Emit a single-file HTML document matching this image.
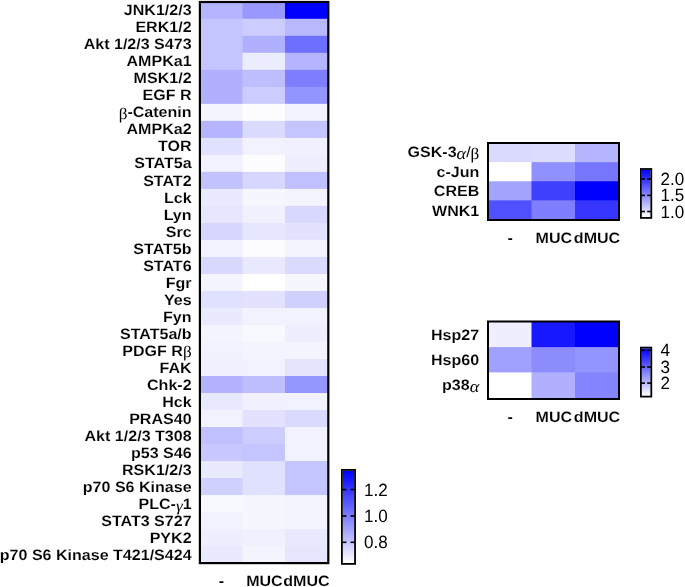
<!DOCTYPE html>
<html><head><meta charset="utf-8"><style>
html,body{margin:0;padding:0;background:#fff;}
body{width:685px;height:587px;overflow:hidden;}
svg{display:block;font-family:"Liberation Sans", sans-serif;will-change:transform;}
</style></head><body>
<svg width="685" height="587" viewBox="0 0 685 587" text-rendering="geometricPrecision" font-family='"Liberation Sans", sans-serif' fill="#000">
<rect x="200.00" y="1.79" width="43.50" height="18.01" fill="rgb(180,180,255)" />
<rect x="242.50" y="1.79" width="43.50" height="18.01" fill="rgb(152,152,255)" />
<rect x="285.00" y="1.79" width="43.50" height="18.01" fill="rgb(0,0,255)" />
<rect x="200.00" y="18.80" width="43.50" height="18.01" fill="rgb(196,196,255)" />
<rect x="242.50" y="18.80" width="43.50" height="18.01" fill="rgb(204,204,255)" />
<rect x="285.00" y="18.80" width="43.50" height="18.01" fill="rgb(184,184,255)" />
<rect x="200.00" y="35.81" width="43.50" height="18.01" fill="rgb(196,196,255)" />
<rect x="242.50" y="35.81" width="43.50" height="18.01" fill="rgb(176,176,255)" />
<rect x="285.00" y="35.81" width="43.50" height="18.01" fill="rgb(110,110,255)" />
<rect x="200.00" y="52.82" width="43.50" height="18.01" fill="rgb(196,196,255)" />
<rect x="242.50" y="52.82" width="43.50" height="18.01" fill="rgb(236,236,255)" />
<rect x="285.00" y="52.82" width="43.50" height="18.01" fill="rgb(180,180,255)" />
<rect x="200.00" y="69.83" width="43.50" height="18.01" fill="rgb(176,176,255)" />
<rect x="242.50" y="69.83" width="43.50" height="18.01" fill="rgb(190,190,255)" />
<rect x="285.00" y="69.83" width="43.50" height="18.01" fill="rgb(126,126,255)" />
<rect x="200.00" y="86.84" width="43.50" height="18.01" fill="rgb(176,176,255)" />
<rect x="242.50" y="86.84" width="43.50" height="18.01" fill="rgb(204,204,255)" />
<rect x="285.00" y="86.84" width="43.50" height="18.01" fill="rgb(148,148,255)" />
<rect x="200.00" y="103.85" width="43.50" height="18.01" fill="rgb(244,244,255)" />
<rect x="242.50" y="103.85" width="43.50" height="18.01" fill="rgb(252,252,255)" />
<rect x="285.00" y="103.85" width="43.50" height="18.01" fill="rgb(242,242,255)" />
<rect x="200.00" y="120.86" width="43.50" height="18.01" fill="rgb(180,180,255)" />
<rect x="242.50" y="120.86" width="43.50" height="18.01" fill="rgb(218,218,255)" />
<rect x="285.00" y="120.86" width="43.50" height="18.01" fill="rgb(196,196,255)" />
<rect x="200.00" y="137.87" width="43.50" height="18.01" fill="rgb(224,224,255)" />
<rect x="242.50" y="137.87" width="43.50" height="18.01" fill="rgb(242,242,255)" />
<rect x="285.00" y="137.87" width="43.50" height="18.01" fill="rgb(240,240,255)" />
<rect x="200.00" y="154.88" width="43.50" height="18.01" fill="rgb(241,241,255)" />
<rect x="242.50" y="154.88" width="43.50" height="18.01" fill="rgb(252,252,255)" />
<rect x="285.00" y="154.88" width="43.50" height="18.01" fill="rgb(238,238,255)" />
<rect x="200.00" y="171.89" width="43.50" height="18.01" fill="rgb(194,194,255)" />
<rect x="242.50" y="171.89" width="43.50" height="18.01" fill="rgb(214,214,255)" />
<rect x="285.00" y="171.89" width="43.50" height="18.01" fill="rgb(192,192,255)" />
<rect x="200.00" y="188.90" width="43.50" height="18.01" fill="rgb(233,233,255)" />
<rect x="242.50" y="188.90" width="43.50" height="18.01" fill="rgb(246,246,255)" />
<rect x="285.00" y="188.90" width="43.50" height="18.01" fill="rgb(244,244,255)" />
<rect x="200.00" y="205.91" width="43.50" height="18.01" fill="rgb(230,230,255)" />
<rect x="242.50" y="205.91" width="43.50" height="18.01" fill="rgb(240,240,255)" />
<rect x="285.00" y="205.91" width="43.50" height="18.01" fill="rgb(216,216,255)" />
<rect x="200.00" y="222.92" width="43.50" height="18.01" fill="rgb(214,214,255)" />
<rect x="242.50" y="222.92" width="43.50" height="18.01" fill="rgb(230,230,255)" />
<rect x="285.00" y="222.92" width="43.50" height="18.01" fill="rgb(226,226,255)" />
<rect x="200.00" y="239.93" width="43.50" height="18.01" fill="rgb(242,242,255)" />
<rect x="242.50" y="239.93" width="43.50" height="18.01" fill="rgb(252,252,255)" />
<rect x="285.00" y="239.93" width="43.50" height="18.01" fill="rgb(244,244,255)" />
<rect x="200.00" y="256.94" width="43.50" height="18.01" fill="rgb(216,216,255)" />
<rect x="242.50" y="256.94" width="43.50" height="18.01" fill="rgb(232,232,255)" />
<rect x="285.00" y="256.94" width="43.50" height="18.01" fill="rgb(218,218,255)" />
<rect x="200.00" y="273.95" width="43.50" height="18.01" fill="rgb(244,244,255)" />
<rect x="242.50" y="273.95" width="43.50" height="18.01" fill="rgb(255,255,255)" />
<rect x="285.00" y="273.95" width="43.50" height="18.01" fill="rgb(246,246,255)" />
<rect x="200.00" y="290.96" width="43.50" height="18.01" fill="rgb(224,224,255)" />
<rect x="242.50" y="290.96" width="43.50" height="18.01" fill="rgb(226,226,255)" />
<rect x="285.00" y="290.96" width="43.50" height="18.01" fill="rgb(208,208,255)" />
<rect x="200.00" y="307.97" width="43.50" height="18.01" fill="rgb(234,234,255)" />
<rect x="242.50" y="307.97" width="43.50" height="18.01" fill="rgb(242,242,255)" />
<rect x="285.00" y="307.97" width="43.50" height="18.01" fill="rgb(242,242,255)" />
<rect x="200.00" y="324.98" width="43.50" height="18.01" fill="rgb(244,244,255)" />
<rect x="242.50" y="324.98" width="43.50" height="18.01" fill="rgb(248,248,255)" />
<rect x="285.00" y="324.98" width="43.50" height="18.01" fill="rgb(238,238,255)" />
<rect x="200.00" y="341.99" width="43.50" height="18.01" fill="rgb(242,242,255)" />
<rect x="242.50" y="341.99" width="43.50" height="18.01" fill="rgb(244,244,255)" />
<rect x="285.00" y="341.99" width="43.50" height="18.01" fill="rgb(244,244,255)" />
<rect x="200.00" y="359.00" width="43.50" height="18.01" fill="rgb(240,240,255)" />
<rect x="242.50" y="359.00" width="43.50" height="18.01" fill="rgb(242,242,255)" />
<rect x="285.00" y="359.00" width="43.50" height="18.01" fill="rgb(228,228,255)" />
<rect x="200.00" y="376.01" width="43.50" height="18.01" fill="rgb(178,178,255)" />
<rect x="242.50" y="376.01" width="43.50" height="18.01" fill="rgb(190,190,255)" />
<rect x="285.00" y="376.01" width="43.50" height="18.01" fill="rgb(150,150,255)" />
<rect x="200.00" y="393.02" width="43.50" height="18.01" fill="rgb(232,232,255)" />
<rect x="242.50" y="393.02" width="43.50" height="18.01" fill="rgb(240,240,255)" />
<rect x="285.00" y="393.02" width="43.50" height="18.01" fill="rgb(242,242,255)" />
<rect x="200.00" y="410.03" width="43.50" height="18.01" fill="rgb(242,242,255)" />
<rect x="242.50" y="410.03" width="43.50" height="18.01" fill="rgb(226,226,255)" />
<rect x="285.00" y="410.03" width="43.50" height="18.01" fill="rgb(218,218,255)" />
<rect x="200.00" y="427.04" width="43.50" height="18.01" fill="rgb(192,192,255)" />
<rect x="242.50" y="427.04" width="43.50" height="18.01" fill="rgb(204,204,255)" />
<rect x="285.00" y="427.04" width="43.50" height="18.01" fill="rgb(242,242,255)" />
<rect x="200.00" y="444.05" width="43.50" height="18.01" fill="rgb(200,200,255)" />
<rect x="242.50" y="444.05" width="43.50" height="18.01" fill="rgb(196,196,255)" />
<rect x="285.00" y="444.05" width="43.50" height="18.01" fill="rgb(242,242,255)" />
<rect x="200.00" y="461.06" width="43.50" height="18.01" fill="rgb(234,234,255)" />
<rect x="242.50" y="461.06" width="43.50" height="18.01" fill="rgb(224,224,255)" />
<rect x="285.00" y="461.06" width="43.50" height="18.01" fill="rgb(196,196,255)" />
<rect x="200.00" y="478.07" width="43.50" height="18.01" fill="rgb(208,208,255)" />
<rect x="242.50" y="478.07" width="43.50" height="18.01" fill="rgb(224,224,255)" />
<rect x="285.00" y="478.07" width="43.50" height="18.01" fill="rgb(196,196,255)" />
<rect x="200.00" y="495.08" width="43.50" height="18.01" fill="rgb(248,248,255)" />
<rect x="242.50" y="495.08" width="43.50" height="18.01" fill="rgb(246,246,255)" />
<rect x="285.00" y="495.08" width="43.50" height="18.01" fill="rgb(244,244,255)" />
<rect x="200.00" y="512.09" width="43.50" height="18.01" fill="rgb(242,242,255)" />
<rect x="242.50" y="512.09" width="43.50" height="18.01" fill="rgb(246,246,255)" />
<rect x="285.00" y="512.09" width="43.50" height="18.01" fill="rgb(244,244,255)" />
<rect x="200.00" y="529.10" width="43.50" height="18.01" fill="rgb(238,238,255)" />
<rect x="242.50" y="529.10" width="43.50" height="18.01" fill="rgb(240,240,255)" />
<rect x="285.00" y="529.10" width="43.50" height="18.01" fill="rgb(232,232,255)" />
<rect x="200.00" y="546.11" width="43.50" height="18.01" fill="rgb(234,234,255)" />
<rect x="242.50" y="546.11" width="43.50" height="18.01" fill="rgb(244,244,255)" />
<rect x="285.00" y="546.11" width="43.50" height="18.01" fill="rgb(230,230,255)" />
<rect x="199.9" y="2" width="128.4" height="561.1" fill="none" stroke="#000" stroke-width="2.2"/>
<text transform="translate(191.60,15.40) scale(1.07,1)" text-anchor="end" font-weight="bold" font-size="15" stroke="#fff" stroke-width="0.12"><tspan>JNK1/2/3</tspan></text>
<text transform="translate(191.60,32.41) scale(1.07,1)" text-anchor="end" font-weight="bold" font-size="15" stroke="#fff" stroke-width="0.12"><tspan>ERK1/2</tspan></text>
<text transform="translate(191.60,49.42) scale(1.07,1)" text-anchor="end" font-weight="bold" font-size="15" stroke="#fff" stroke-width="0.12"><tspan>Akt 1/2/3 S473</tspan></text>
<text transform="translate(191.60,66.43) scale(1.07,1)" text-anchor="end" font-weight="bold" font-size="15" stroke="#fff" stroke-width="0.12"><tspan>AMPKa1</tspan></text>
<text transform="translate(191.60,83.44) scale(1.07,1)" text-anchor="end" font-weight="bold" font-size="15" stroke="#fff" stroke-width="0.12"><tspan>MSK1/2</tspan></text>
<text transform="translate(191.60,100.45) scale(1.07,1)" text-anchor="end" font-weight="bold" font-size="15" stroke="#fff" stroke-width="0.12"><tspan>EGF R</tspan></text>
<text transform="translate(191.60,117.46) scale(1.07,1)" text-anchor="end" font-weight="bold" font-size="15" stroke="#fff" stroke-width="0.12"><tspan dy="1.50" stroke="none" font-family='"Liberation Serif", serif' font-weight="normal" font-size="16">β</tspan><tspan dy="-1.50">-Catenin</tspan></text>
<text transform="translate(191.60,134.47) scale(1.07,1)" text-anchor="end" font-weight="bold" font-size="15" stroke="#fff" stroke-width="0.12"><tspan>AMPKa2</tspan></text>
<text transform="translate(191.60,151.48) scale(1.07,1)" text-anchor="end" font-weight="bold" font-size="15" stroke="#fff" stroke-width="0.12"><tspan>TOR</tspan></text>
<text transform="translate(191.60,168.49) scale(1.07,1)" text-anchor="end" font-weight="bold" font-size="15" stroke="#fff" stroke-width="0.12"><tspan>STAT5a</tspan></text>
<text transform="translate(191.60,185.50) scale(1.07,1)" text-anchor="end" font-weight="bold" font-size="15" stroke="#fff" stroke-width="0.12"><tspan>STAT2</tspan></text>
<text transform="translate(191.60,202.51) scale(1.07,1)" text-anchor="end" font-weight="bold" font-size="15" stroke="#fff" stroke-width="0.12"><tspan>Lck</tspan></text>
<text transform="translate(191.60,219.52) scale(1.07,1)" text-anchor="end" font-weight="bold" font-size="15" stroke="#fff" stroke-width="0.12"><tspan>Lyn</tspan></text>
<text transform="translate(191.60,236.53) scale(1.07,1)" text-anchor="end" font-weight="bold" font-size="15" stroke="#fff" stroke-width="0.12"><tspan>Src</tspan></text>
<text transform="translate(191.60,253.54) scale(1.07,1)" text-anchor="end" font-weight="bold" font-size="15" stroke="#fff" stroke-width="0.12"><tspan>STAT5b</tspan></text>
<text transform="translate(191.60,270.55) scale(1.07,1)" text-anchor="end" font-weight="bold" font-size="15" stroke="#fff" stroke-width="0.12"><tspan>STAT6</tspan></text>
<text transform="translate(191.60,287.56) scale(1.07,1)" text-anchor="end" font-weight="bold" font-size="15" stroke="#fff" stroke-width="0.12"><tspan>Fgr</tspan></text>
<text transform="translate(191.60,304.57) scale(1.07,1)" text-anchor="end" font-weight="bold" font-size="15" stroke="#fff" stroke-width="0.12"><tspan>Yes</tspan></text>
<text transform="translate(191.60,321.58) scale(1.07,1)" text-anchor="end" font-weight="bold" font-size="15" stroke="#fff" stroke-width="0.12"><tspan>Fyn</tspan></text>
<text transform="translate(191.60,338.59) scale(1.07,1)" text-anchor="end" font-weight="bold" font-size="15" stroke="#fff" stroke-width="0.12"><tspan>STAT5a/b</tspan></text>
<text transform="translate(191.60,355.60) scale(1.07,1)" text-anchor="end" font-weight="bold" font-size="15" stroke="#fff" stroke-width="0.12"><tspan>PDGF R</tspan><tspan dy="1.50" stroke="none" font-family='"Liberation Serif", serif' font-weight="normal" font-size="16">β</tspan></text>
<text transform="translate(191.60,372.61) scale(1.07,1)" text-anchor="end" font-weight="bold" font-size="15" stroke="#fff" stroke-width="0.12"><tspan>FAK</tspan></text>
<text transform="translate(191.60,389.62) scale(1.07,1)" text-anchor="end" font-weight="bold" font-size="15" stroke="#fff" stroke-width="0.12"><tspan>Chk-2</tspan></text>
<text transform="translate(191.60,406.63) scale(1.07,1)" text-anchor="end" font-weight="bold" font-size="15" stroke="#fff" stroke-width="0.12"><tspan>Hck</tspan></text>
<text transform="translate(191.60,423.64) scale(1.07,1)" text-anchor="end" font-weight="bold" font-size="15" stroke="#fff" stroke-width="0.12"><tspan>PRAS40</tspan></text>
<text transform="translate(191.60,440.65) scale(1.07,1)" text-anchor="end" font-weight="bold" font-size="15" stroke="#fff" stroke-width="0.12"><tspan>Akt 1/2/3 T308</tspan></text>
<text transform="translate(191.60,457.66) scale(1.07,1)" text-anchor="end" font-weight="bold" font-size="15" stroke="#fff" stroke-width="0.12"><tspan>p53 S46</tspan></text>
<text transform="translate(191.60,474.67) scale(1.07,1)" text-anchor="end" font-weight="bold" font-size="15" stroke="#fff" stroke-width="0.12"><tspan>RSK1/2/3</tspan></text>
<text transform="translate(191.60,491.68) scale(1.07,1)" text-anchor="end" font-weight="bold" font-size="15" stroke="#fff" stroke-width="0.12"><tspan>p70 S6 Kinase</tspan></text>
<text transform="translate(191.60,508.69) scale(1.07,1)" text-anchor="end" font-weight="bold" font-size="15" stroke="#fff" stroke-width="0.12"><tspan>PLC-</tspan><tspan dy="2.00" stroke="none" font-family='"Liberation Serif", serif' font-weight="normal" font-style="italic" font-size="16">γ</tspan><tspan dy="-2.00">1</tspan></text>
<text transform="translate(191.60,525.70) scale(1.07,1)" text-anchor="end" font-weight="bold" font-size="15" stroke="#fff" stroke-width="0.12"><tspan>STAT3 S727</tspan></text>
<text transform="translate(191.60,542.71) scale(1.07,1)" text-anchor="end" font-weight="bold" font-size="15" stroke="#fff" stroke-width="0.12"><tspan>PYK2</tspan></text>
<text transform="translate(191.60,559.72) scale(1.07,1)" text-anchor="end" font-weight="bold" font-size="15" stroke="#fff" stroke-width="0.12"><tspan>p70 S6 Kinase T421/S424</tspan></text>
<text transform="translate(221.40,585.50) scale(1.07,1)" text-anchor="middle" font-weight="bold" font-size="15" stroke="#fff" stroke-width="0.12">-</text>
<text transform="translate(264.40,585.50) scale(1.07,1)" text-anchor="middle" font-weight="bold" font-size="15" stroke="#fff" stroke-width="0.12">MUC</text>
<text transform="translate(306.40,585.50) scale(1.07,1)" text-anchor="middle" font-weight="bold" font-size="15" stroke="#fff" stroke-width="0.12">dMUC</text>
<defs><linearGradient id="g0" x1="0" y1="1" x2="0" y2="0"><stop offset="0" stop-color="#fff"/><stop offset="1" stop-color="#00f"/></linearGradient></defs>
<rect x="342.80" y="470.80" width="11.35" height="92.20" fill="url(#g0)" />
<rect x="341.90" y="469.90" width="13.15" height="94.00" fill="none" stroke="#000" stroke-width="1.8"/>
<line x1="341.80" y1="489.6" x2="346.40" y2="489.6" stroke="#000" stroke-width="1.6"/>
<line x1="350.55" y1="489.6" x2="355.15" y2="489.6" stroke="#000" stroke-width="1.6"/>
<text transform="translate(364.1,495.60) scale(0.96,1)" font-size="17.8">1.2</text>
<line x1="341.80" y1="516.0" x2="346.40" y2="516.0" stroke="#000" stroke-width="1.6"/>
<line x1="350.55" y1="516.0" x2="355.15" y2="516.0" stroke="#000" stroke-width="1.6"/>
<text transform="translate(364.1,522.00) scale(0.96,1)" font-size="17.8">1.0</text>
<line x1="341.80" y1="542.3" x2="346.40" y2="542.3" stroke="#000" stroke-width="1.6"/>
<line x1="350.55" y1="542.3" x2="355.15" y2="542.3" stroke="#000" stroke-width="1.6"/>
<text transform="translate(364.1,548.30) scale(0.96,1)" font-size="17.8">0.8</text>
<rect x="488.00" y="143.10" width="44.50" height="20.08" fill="rgb(218,218,255)" />
<rect x="531.50" y="143.10" width="44.50" height="20.08" fill="rgb(220,220,255)" />
<rect x="575.00" y="143.10" width="44.50" height="20.08" fill="rgb(180,180,255)" />
<rect x="488.00" y="162.18" width="44.50" height="20.08" fill="rgb(255,255,255)" />
<rect x="531.50" y="162.18" width="44.50" height="20.08" fill="rgb(144,144,255)" />
<rect x="575.00" y="162.18" width="44.50" height="20.08" fill="rgb(118,118,255)" />
<rect x="488.00" y="181.26" width="44.50" height="20.08" fill="rgb(164,164,255)" />
<rect x="531.50" y="181.26" width="44.50" height="20.08" fill="rgb(64,64,255)" />
<rect x="575.00" y="181.26" width="44.50" height="20.08" fill="rgb(0,0,255)" />
<rect x="488.00" y="200.34" width="44.50" height="20.08" fill="rgb(80,80,255)" />
<rect x="531.50" y="200.34" width="44.50" height="20.08" fill="rgb(126,126,255)" />
<rect x="575.00" y="200.34" width="44.50" height="20.08" fill="rgb(54,54,255)" />
<rect x="488" y="143" width="131" height="77" fill="none" stroke="#000" stroke-width="2"/>
<text transform="translate(479.30,157.00) scale(1.07,1)" text-anchor="end" font-weight="bold" font-size="15" stroke="#fff" stroke-width="0.12"><tspan>GSK-3</tspan><tspan dy="1.80" stroke="none" font-family='"Liberation Serif", serif' font-weight="normal" font-style="italic" font-size="17">α</tspan><tspan dy="-1.80" stroke="none" font-weight="normal">/</tspan><tspan dy="1.50" stroke="none" font-family='"Liberation Serif", serif' font-weight="normal" font-size="16">β</tspan></text>
<text transform="translate(479.30,176.50) scale(1.07,1)" text-anchor="end" font-weight="bold" font-size="15" stroke="#fff" stroke-width="0.12"><tspan>c-Jun</tspan></text>
<text transform="translate(479.30,196.20) scale(1.07,1)" text-anchor="end" font-weight="bold" font-size="15" stroke="#fff" stroke-width="0.12"><tspan>CREB</tspan></text>
<text transform="translate(479.30,215.70) scale(1.07,1)" text-anchor="end" font-weight="bold" font-size="15" stroke="#fff" stroke-width="0.12"><tspan>WNK1</tspan></text>
<text transform="translate(510.20,243.40) scale(1.07,1)" text-anchor="middle" font-weight="bold" font-size="15" stroke="#fff" stroke-width="0.12">-</text>
<text transform="translate(553.80,243.40) scale(1.07,1)" text-anchor="middle" font-weight="bold" font-size="15" stroke="#fff" stroke-width="0.12">MUC</text>
<text transform="translate(597.00,243.40) scale(1.07,1)" text-anchor="middle" font-weight="bold" font-size="15" stroke="#fff" stroke-width="0.12">dMUC</text>
<defs><linearGradient id="g1" x1="0" y1="1" x2="0" y2="0"><stop offset="0" stop-color="#fff"/><stop offset="1" stop-color="#00f"/></linearGradient></defs>
<rect x="641.80" y="169.90" width="8.60" height="47.10" fill="url(#g1)" />
<rect x="640.90" y="169.00" width="10.40" height="48.90" fill="none" stroke="#000" stroke-width="1.8"/>
<line x1="640.80" y1="179.0" x2="645.00" y2="179.0" stroke="#000" stroke-width="1.6"/>
<line x1="647.20" y1="179.0" x2="651.40" y2="179.0" stroke="#000" stroke-width="1.6"/>
<text transform="translate(660.5,185.00) scale(0.96,1)" font-size="17.8">2.0</text>
<line x1="640.80" y1="195.4" x2="645.00" y2="195.4" stroke="#000" stroke-width="1.6"/>
<line x1="647.20" y1="195.4" x2="651.40" y2="195.4" stroke="#000" stroke-width="1.6"/>
<text transform="translate(660.5,201.40) scale(0.96,1)" font-size="17.8">1.5</text>
<line x1="640.80" y1="211.5" x2="645.00" y2="211.5" stroke="#000" stroke-width="1.6"/>
<line x1="647.20" y1="211.5" x2="651.40" y2="211.5" stroke="#000" stroke-width="1.6"/>
<text transform="translate(660.5,217.50) scale(0.96,1)" font-size="17.8">1.0</text>
<rect x="488.00" y="321.80" width="44.50" height="26.30" fill="rgb(238,238,255)" />
<rect x="531.50" y="321.80" width="44.50" height="26.30" fill="rgb(24,24,255)" />
<rect x="575.00" y="321.80" width="44.50" height="26.30" fill="rgb(0,0,255)" />
<rect x="488.00" y="347.10" width="44.50" height="26.30" fill="rgb(160,160,255)" />
<rect x="531.50" y="347.10" width="44.50" height="26.30" fill="rgb(140,140,255)" />
<rect x="575.00" y="347.10" width="44.50" height="26.30" fill="rgb(148,148,255)" />
<rect x="488.00" y="372.40" width="44.50" height="26.30" fill="rgb(255,255,255)" />
<rect x="531.50" y="372.40" width="44.50" height="26.30" fill="rgb(176,176,255)" />
<rect x="575.00" y="372.40" width="44.50" height="26.30" fill="rgb(132,132,255)" />
<rect x="488" y="321.5" width="131" height="77.5" fill="none" stroke="#000" stroke-width="2"/>
<text transform="translate(479.20,339.55) scale(1.07,1)" text-anchor="end" font-weight="bold" font-size="15" stroke="#fff" stroke-width="0.12"><tspan>Hsp27</tspan></text>
<text transform="translate(479.20,364.85) scale(1.07,1)" text-anchor="end" font-weight="bold" font-size="15" stroke="#fff" stroke-width="0.12"><tspan>Hsp60</tspan></text>
<text transform="translate(479.20,390.15) scale(1.07,1)" text-anchor="end" font-weight="bold" font-size="15" stroke="#fff" stroke-width="0.12"><tspan>p38</tspan><tspan dy="1.80" stroke="none" font-family='"Liberation Serif", serif' font-weight="normal" font-style="italic" font-size="17">α</tspan></text>
<text transform="translate(510.20,421.80) scale(1.07,1)" text-anchor="middle" font-weight="bold" font-size="15" stroke="#fff" stroke-width="0.12">-</text>
<text transform="translate(553.80,421.80) scale(1.07,1)" text-anchor="middle" font-weight="bold" font-size="15" stroke="#fff" stroke-width="0.12">MUC</text>
<text transform="translate(597.00,421.80) scale(1.07,1)" text-anchor="middle" font-weight="bold" font-size="15" stroke="#fff" stroke-width="0.12">dMUC</text>
<defs><linearGradient id="g2" x1="0" y1="1" x2="0" y2="0"><stop offset="0" stop-color="#fff"/><stop offset="1" stop-color="#00f"/></linearGradient></defs>
<rect x="641.80" y="348.50" width="8.60" height="47.20" fill="url(#g2)" />
<rect x="640.90" y="347.60" width="10.40" height="49.00" fill="none" stroke="#000" stroke-width="1.8"/>
<line x1="640.80" y1="350.3" x2="645.00" y2="350.3" stroke="#000" stroke-width="1.6"/>
<line x1="647.20" y1="350.3" x2="651.40" y2="350.3" stroke="#000" stroke-width="1.6"/>
<text transform="translate(660.5,356.30) scale(0.96,1)" font-size="17.8">4</text>
<line x1="640.80" y1="367.0" x2="645.00" y2="367.0" stroke="#000" stroke-width="1.6"/>
<line x1="647.20" y1="367.0" x2="651.40" y2="367.0" stroke="#000" stroke-width="1.6"/>
<text transform="translate(660.5,373.00) scale(0.96,1)" font-size="17.8">3</text>
<line x1="640.80" y1="383.1" x2="645.00" y2="383.1" stroke="#000" stroke-width="1.6"/>
<line x1="647.20" y1="383.1" x2="651.40" y2="383.1" stroke="#000" stroke-width="1.6"/>
<text transform="translate(660.5,389.10) scale(0.96,1)" font-size="17.8">2</text>
</svg>
</body></html>
